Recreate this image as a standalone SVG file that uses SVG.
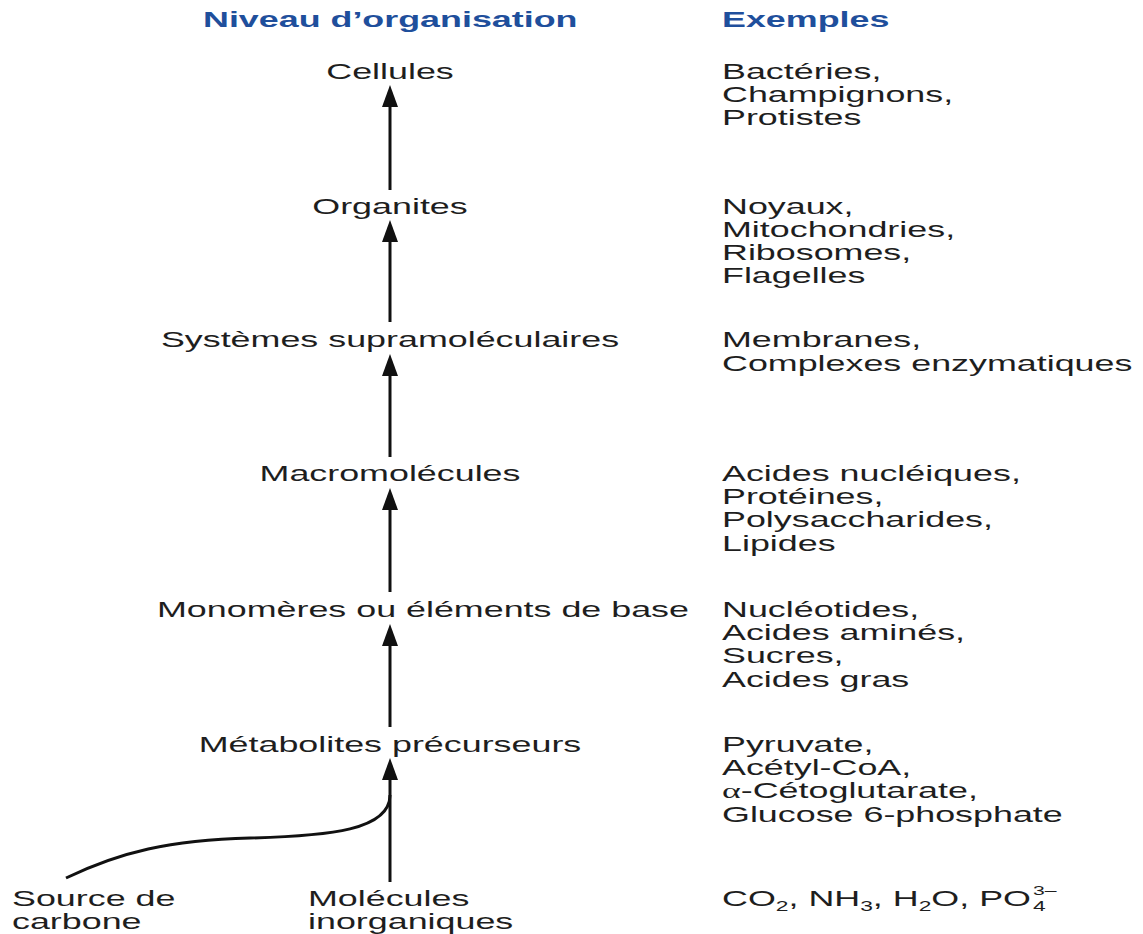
<svg xmlns="http://www.w3.org/2000/svg" width="1143" height="934" viewBox="0 0 1143 934">
<style>
text{font-family:"Liberation Sans",Arial,sans-serif;font-size:22px;fill:#1e1e1e}
.h{font-weight:bold;fill:#1f4f9c}
.m{text-anchor:middle}
.c{stroke:#111;stroke-width:3;fill:none}
.sub{font-size:14px}
.sup{font-size:13px}
</style>
<defs>
<marker id="ah" markerUnits="userSpaceOnUse" markerWidth="22" markerHeight="16" refX="0" refY="8" orient="auto">
<path d="M0,0 L22,8 L0,16 z" fill="#111"/>
</marker>
</defs>
<rect width="1143" height="934" fill="#fff"/>
<g id="headers">
<text class="h" transform="translate(203,27) scale(1.63,1)">Niveau d’organisation</text>
<text class="h" transform="translate(722,27) scale(1.63,1)">Exemples</text>
</g>
<g id="connectors">
<line class="c" x1="390" y1="190" x2="390" y2="107" marker-end="url(#ah)"/>
<line class="c" x1="390" y1="322" x2="390" y2="242" marker-end="url(#ah)"/>
<line class="c" x1="390" y1="457" x2="390" y2="376" marker-end="url(#ah)"/>
<line class="c" x1="390" y1="592" x2="390" y2="510" marker-end="url(#ah)"/>
<line class="c" x1="390" y1="727" x2="390" y2="646" marker-end="url(#ah)"/>
<line class="c" x1="390" y1="882" x2="390" y2="780" marker-end="url(#ah)"/>
<path class="c" d="M66,878 C120,852 170,840 250,838 C330,836 390,830 390,795"/>
</g>
<g id="cellules">
<text class="m" transform="translate(390,79) scale(1.63,1)">Cellules</text>
<text transform="translate(722,79) scale(1.63,1)">Bactéries,</text>
<text transform="translate(722,102) scale(1.63,1)">Champignons,</text>
<text transform="translate(722,125) scale(1.63,1)">Protistes</text>
</g>
<g id="organites">
<text class="m" transform="translate(390,214) scale(1.63,1)">Organites</text>
<text transform="translate(722,214) scale(1.63,1)">Noyaux,</text>
<text transform="translate(722,237) scale(1.63,1)">Mitochondries,</text>
<text transform="translate(722,260) scale(1.63,1)">Ribosomes,</text>
<text transform="translate(722,283) scale(1.63,1)">Flagelles</text>
</g>
<g id="systemes">
<text class="m" transform="translate(390,347) scale(1.63,1)">Systèmes supramoléculaires</text>
<text transform="translate(722,347) scale(1.63,1)">Membranes,</text>
<text transform="translate(722,371) scale(1.63,1)">Complexes enzymatiques</text>
</g>
<g id="macromolecules">
<text class="m" transform="translate(390,481) scale(1.63,1)">Macromolécules</text>
<text transform="translate(722,481) scale(1.63,1)">Acides nucléiques,</text>
<text transform="translate(722,504) scale(1.63,1)">Protéines,</text>
<text transform="translate(722,527) scale(1.63,1)">Polysaccharides,</text>
<text transform="translate(722,551) scale(1.63,1)">Lipides</text>
</g>
<g id="monomeres">
<text transform="translate(157,617) scale(1.63,1)">Monomères ou éléments de base</text>
<text transform="translate(722,617) scale(1.63,1)">Nucléotides,</text>
<text transform="translate(722,640) scale(1.63,1)">Acides aminés,</text>
<text transform="translate(722,663) scale(1.63,1)">Sucres,</text>
<text transform="translate(722,687) scale(1.63,1)">Acides gras</text>
</g>
<g id="metabolites">
<text class="m" transform="translate(390,752) scale(1.63,1)">Métabolites précurseurs</text>
<text transform="translate(722,752) scale(1.63,1)">Pyruvate,</text>
<text transform="translate(722,775) scale(1.63,1)">Acétyl-CoA,</text>
<text transform="translate(722,798) scale(1.63,1)"><tspan style="font-family:'Liberation Serif',serif">α</tspan>-Cétoglutarate,</text>
<text transform="translate(722,822) scale(1.63,1)">Glucose 6-phosphate</text>
</g>
<g id="source">
<text transform="translate(12,906) scale(1.63,1)">Source de</text>
<text transform="translate(12,929) scale(1.63,1)">carbone</text>
</g>
<g id="inorganiques">
<text transform="translate(308,906) scale(1.63,1)">Molécules</text>
<text transform="translate(308,929) scale(1.63,1)">inorganiques</text>
<text transform="translate(722,906) scale(1.63,1)">CO<tspan class="sub" dy="5">2</tspan><tspan dy="-5">, NH</tspan><tspan class="sub" dy="5">3</tspan><tspan dy="-5">, H</tspan><tspan class="sub" dy="5">2</tspan><tspan dy="-5">O, PO</tspan></text>
<text class="sub" transform="translate(1033,911) scale(1.63,1)">4</text>
<text class="sup" transform="translate(1033,895) scale(1.63,1)">3–</text>
</g>
</svg>
